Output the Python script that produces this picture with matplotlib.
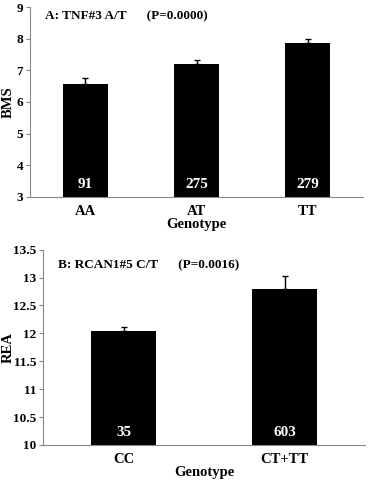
import numpy as np
import matplotlib.pyplot as plt

# panel A data
geno_a = ['AA', 'AT', 'TT']
bms = [6.56, 7.21, 7.87]
bms_err = [0.20, 0.11, 0.12]
n_a = ['91', '275', '279']

# panel B data
geno_b = ['CC', 'CT+TT']
rea = [12.05, 12.79]
rea_err = [0.06, 0.23]
n_b = ['35', '603']

plt.rcParams['font.family'] = ['Liberation Serif', 'DejaVu Serif']
plt.rcParams['font.weight'] = 'bold'

fig = plt.figure(figsize=(3.68, 4.8), dpi=100)
ax1 = fig.add_axes([0.0815, 0.59, 0.905, 0.395])
ax2 = fig.add_axes([0.117, 0.073, 0.875, 0.407])


def draw(ax, cats, vals, errs, counts, ymin, ymax, step, ylab, title, ty, lx):
    x = np.arange(len(cats))
    lower = np.zeros(len(vals))
    ax.bar(x, np.array(vals) - ymin, bottom=ymin, width=0.4, color='black')
    ax.errorbar(x, vals, yerr=[lower, errs], fmt='none', ecolor='black',
                elinewidth=1, capsize=2.5, capthick=1)
    for xi, c in zip(x, counts):
        ax.text(xi, ymin + (ymax - ymin) * 0.03, c, color='white',
                ha='center', va='bottom', fontsize=11, fontweight='bold')
    ax.set_xlim(-0.5, len(cats) - 0.5)
    ax.set_ylim(ymin, ymax)
    ax.set_yticks(np.arange(ymin, ymax + step / 2, step))
    ax.yaxis.set_major_formatter(plt.FormatStrFormatter('%g'))
    ax.set_xticks(x)
    ax.set_xticklabels(cats, fontsize=10.5, fontweight='bold')
    ax.tick_params(axis='x', length=0, pad=6)
    ax.tick_params(axis='y', length=3, color='#888888', labelsize=9.5, pad=2)
    for s in ['top', 'right']:
        ax.spines[s].set_visible(False)
    for s in ['left', 'bottom']:
        ax.spines[s].set_color('#888888')
    ax.set_xlabel('Genotype', fontsize=10.5, fontweight='bold', labelpad=0)
    ax.set_ylabel(ylab, fontsize=10.5, fontweight='bold')
    ax.yaxis.set_label_coords(lx, 0.5)
    ax.text(0.045, ty, title, transform=ax.transAxes, fontsize=9.5,
            fontweight='bold', ha='left', va='center')


draw(ax1, geno_a, bms, bms_err, n_a, 3, 9, 1, 'BMS',
     'A: TNF#3 A/T      (P=0.0000)', 0.95, -0.045)
draw(ax2, geno_b, rea, rea_err, n_b, 10, 13.5, 0.5, 'REA',
     'B: RCAN1#5 C/T      (P=0.0016)', 0.92, -0.087)

fig.savefig('out.png', dpi=100)
